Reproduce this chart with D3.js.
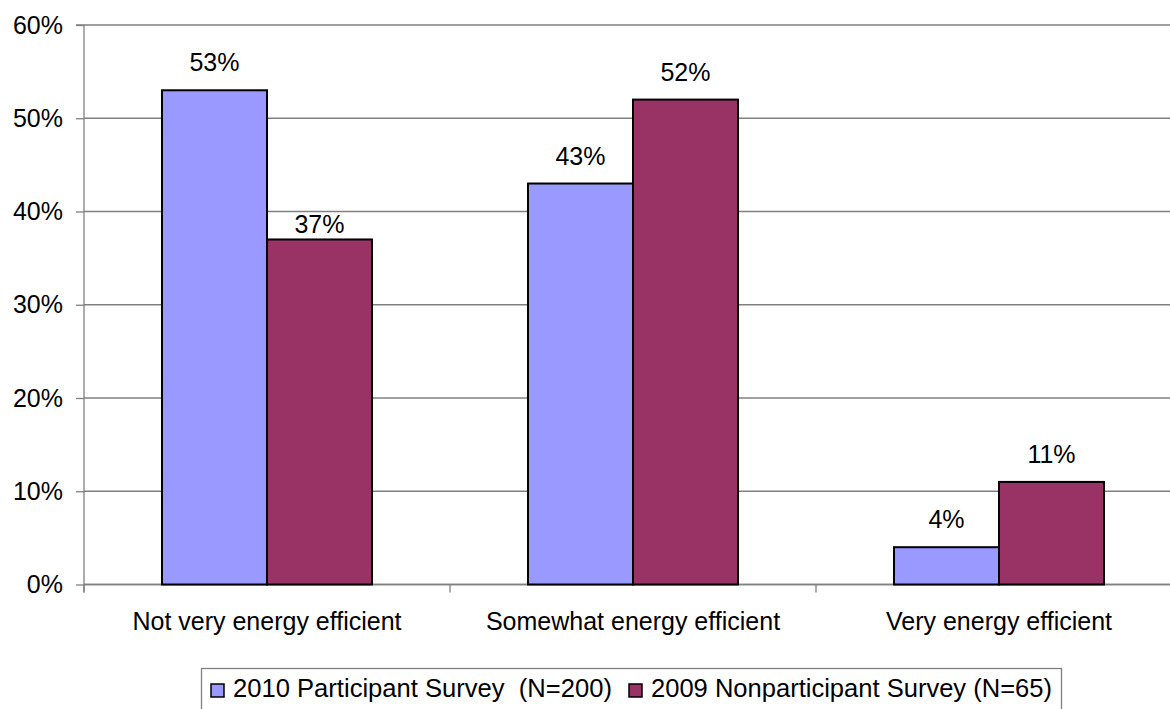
<!DOCTYPE html>
<html><head><meta charset="utf-8">
<script src="https://cdn.jsdelivr.net/npm/d3@7"></script>
<style>body{margin:0;background:#fff;} svg{display:block;font-family:"Liberation Sans",Arial,sans-serif;}</style>
</head><body><svg id="c" width="1170" height="709"></svg>
<script>
const categories = ["Not very energy efficient","Somewhat energy efficient","Very energy efficient"];
const seriesNames = ["2010 Participant Survey  (N=200)","2009 Nonparticipant Survey (N=65)"];
const participant2010 = [53,43,4];
const nonparticipant2009 = [37,52,11];
const yTicks = [0,10,20,30,40,50,60];
const colors = ["#9999FF","#993366"];

const FS = 25;
const svg = d3.select("#c");
const mLeft=84, mTop=25, mBottom=584.5, mRight=1182;
const x = d3.scaleBand().domain(categories).range([mLeft,mRight]).paddingInner(0).paddingOuter(0);
const y = d3.scaleLinear().domain([0,60]).range([mBottom,mTop]);
const barW = 105;
// label placement: default gap above bar; one label sits lower in the original
const labelGap = (si,i) => (si===1 && i===0) ? 6 : 19;

// gridlines
svg.append("g").selectAll("line").data(yTicks).join("line")
  .attr("x1",mLeft).attr("x2",1170).attr("y1",d=>y(d)).attr("y2",d=>y(d))
  .attr("stroke","#808080").attr("stroke-width",1.3);

// y axis
const yAxis = d3.axisLeft(y).tickValues(yTicks).tickFormat(d=>d+"%").tickSize(8).tickPadding(13);
const gy = svg.append("g").attr("transform",`translate(${mLeft},0)`).call(yAxis);
gy.select(".domain").attr("stroke","#808080").attr("stroke-width",1.3).attr("d",`M-8,${y(60)}H0V${mBottom+8}`);
gy.selectAll(".tick line").attr("stroke","#808080").attr("stroke-width",1.3);
gy.selectAll("text").attr("font-size",FS).attr("fill","#000").attr("font-family","Liberation Sans, Arial, sans-serif");

// x axis
const gx = svg.append("g").attr("transform",`translate(0,${mBottom})`);
gx.append("line").attr("x1",mLeft).attr("x2",1170).attr("y1",0).attr("y2",0).attr("stroke","#808080").attr("stroke-width",1.3);
gx.selectAll(".xt").data(categories).join("line").attr("class","xt")
  .attr("x1",d=>x(d)).attr("x2",d=>x(d)).attr("y1",0).attr("y2",8).attr("stroke","#808080").attr("stroke-width",1.3);
gx.selectAll(".xl").data(categories).join("text").attr("class","xl")
  .attr("x",d=>x(d)+x.bandwidth()/2).attr("y",45.5).attr("text-anchor","middle")
  .attr("font-size",FS).attr("fill","#000").text(d=>d);

const series = [participant2010, nonparticipant2009];
series.forEach((vals,si)=>{
  const g = svg.append("g");
  const bx = (i)=> x(categories[i]) + x.bandwidth()/2 - barW + si*barW;
  g.selectAll("rect").data(vals).join("rect")
    .attr("x",(d,i)=>bx(i)).attr("width",barW)
    .attr("y",d=>y(d)).attr("height",d=>mBottom-y(d))
    .attr("fill",colors[si]).attr("stroke","#000").attr("stroke-width",2);
  g.selectAll("text").data(vals).join("text")
    .attr("x",(d,i)=>bx(i)+barW/2).attr("y",(d,i)=>y(d)-labelGap(si,i))
    .attr("text-anchor","middle").attr("font-size",FS).attr("fill","#000").text(d=>d+"%");
});

// legend
const lg = svg.append("g");
lg.append("rect").attr("x",201.5).attr("y",668.5).attr("width",860).attr("height",45)
  .attr("fill","#fff").attr("stroke","#808080").attr("stroke-width",1.3);
const legX = [211, 629];
const legEnd = [612, 1052];
seriesNames.forEach((n,i)=>{
  lg.append("rect").attr("x",legX[i]).attr("y",684).attr("width",13).attr("height",13)
    .attr("fill",colors[i]).attr("stroke","#000").attr("stroke-width",1.5);
  lg.append("text").attr("x",legX[i]+22).attr("y",697).attr("font-size",FS).attr("fill","#000")
    .attr("xml:space","preserve").style("white-space","pre")
    .attr("textLength",legEnd[i]-(legX[i]+22)).attr("lengthAdjust","spacingAndGlyphs").text(n);
});
</script></body></html>
